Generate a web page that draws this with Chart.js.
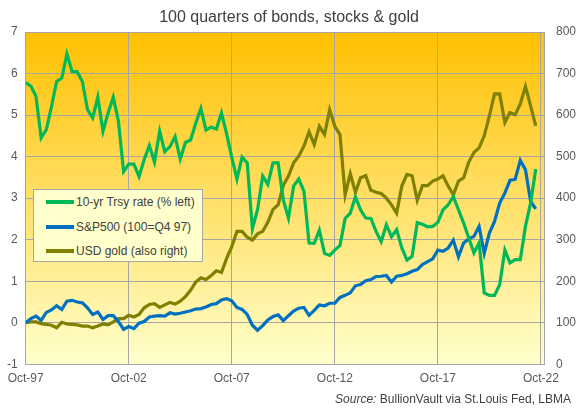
<!DOCTYPE html>
<html>
<head>
<meta charset="utf-8">
<script src="https://cdn.jsdelivr.net/npm/chart.js@4"></script>
<style>
  body { margin: 0; background: #fff; }
  #wrap { position: relative; width: 578px; height: 409px; }
  #legend {
    position: absolute; left: 33px; top: 189px; width: 168px; height: 71px;
    background: #FFFFCC; border: 1px solid #A6A6A6;
    font: 12px 'Liberation Sans', Arial, sans-serif; color: #404040;
  }
  .row { position: absolute; left: 0; height: 16px; line-height: 16px; white-space: nowrap; }
  .swatch { position: absolute; left: 12px; top: 6px; width: 28px; height: 4px; }
  .lbl { position: absolute; left: 42px; top: 0; }
  #source {
    position: absolute; right: 7px; top: 392px;
    font: 12px 'Liberation Sans', Arial, sans-serif; color: #404040;
  }
</style>
</head>
<body>
<div id="wrap">
  <canvas id="chart" width="578" height="409"></canvas>
  <div id="legend"></div>
  <div id="source"><i>Source:</i> BullionVault via St.Louis Fed, LBMA</div>
</div>
<script>
// quarter ends Q4 1997 .. Q3 2022 (100 quarters), x = quarter index
const xTickPos = [0, 20, 40, 60, 80, 100];
const xTickLabels = ["Oct-97", "Oct-02", "Oct-07", "Oct-12", "Oct-17", "Oct-22"];

// 10-yr Treasury yield, % (left axis)
const treasury = [
  5.78, 5.70, 5.45, 4.45, 4.65, 5.20, 5.81, 5.89, 6.47, 6.05,
  6.04, 5.81, 5.13, 4.93, 5.43, 4.61, 5.05, 5.43, 4.85, 3.64,
  3.82, 3.82, 3.52, 3.93, 4.27, 3.87, 4.61, 4.12, 4.24, 4.48,
  3.94, 4.34, 4.40, 4.80, 5.16, 4.64, 4.71, 4.66, 5.05, 4.55,
  3.98, 3.46, 3.99, 3.85, 2.26, 2.72, 3.53, 3.33, 3.85, 3.85,
  2.96, 2.52, 3.29, 3.46, 3.17, 1.92, 1.91, 2.23, 1.67, 1.62,
  1.75, 1.86, 2.51, 2.64, 3.03, 2.72, 2.52, 2.51, 2.20, 1.95,
  2.36, 2.07, 2.24, 1.80, 1.51, 1.60, 2.41, 2.37, 2.31, 2.32,
  2.42, 2.72, 2.84, 3.04, 2.72, 2.40, 2.04, 1.68, 1.92, 0.72,
  0.66, 0.66, 0.92, 1.75, 1.44, 1.52, 1.52, 2.32, 2.88, 3.70
];

// S&P500, 100 = Q4 97 (right axis)
const sp500 = [
  100, 110, 116, 106, 125, 131, 141, 132, 152, 154,
  150, 148, 136, 120, 126, 108, 117, 117, 103, 84,
  91, 86, 99, 103, 114, 116, 117, 116, 124, 121,
  123, 126, 129, 133, 134, 138, 144, 146, 155, 158,
  153, 137, 132, 120, 94, 82, 93, 107, 115, 119,
  105, 117, 128, 135, 137, 118, 130, 143, 141, 147,
  147, 161, 166, 172, 189, 192, 201, 204, 211, 212,
  214, 198, 212, 214, 218, 224, 228, 240, 247, 254,
  275, 272, 280, 299, 259, 292, 302, 308, 332, 267,
  316, 344, 388, 412, 443, 445, 491, 469, 392, 374
];

// USD gold, 100 = Q4 97 (right axis)
const gold = [
  100, 102, 102, 98, 96, 94, 88, 101, 97, 96,
  95, 92, 92, 88, 92, 97, 95, 102, 110, 110,
  118, 114, 120, 136, 144, 146, 137, 143, 149, 145,
  152, 163, 178, 198, 208, 204, 214, 225, 221, 255,
  283, 320, 320, 306, 299, 314, 320, 342, 373, 384,
  431, 453, 485, 501, 525, 560, 529, 573, 553, 613,
  573, 553, 408, 459, 414, 449, 454, 419, 414, 411,
  400, 384, 364, 429, 457, 454, 395, 430, 430, 441,
  446, 454, 429, 408, 441, 449, 487, 510, 521, 550,
  598, 651, 651, 582, 606, 601, 627, 669, 622, 574
];

const seriesNames = ["10-yr Trsy rate (% left)", "S&P500 (100=Q4 97)", "USD gold (also right)"];
const seriesColors = ["#00B857", "#0070C0", "#7F7F00"];

const toXY = arr => arr.map((v, i) => ({ x: i, y: v }));

// HTML legend built from the series names/colours
const legendEl = document.getElementById("legend");
seriesNames.forEach((name, k) => {
  const row = document.createElement("div");
  row.className = "row";
  row.style.top = (4 + k * 24.6) + "px";
  row.innerHTML = '<span class="swatch" style="background:' + seriesColors[k] + '"></span><span class="lbl">' + name.replace("&", "&amp;") + '</span>';
  legendEl.appendChild(row);
});

const plotBackground = {
  id: "plotBackground",
  beforeDraw(chart) {
    const { ctx, chartArea: a } = chart;
    const g = ctx.createLinearGradient(0, a.top, 0, a.bottom);
    g.addColorStop(0, "#FFC000");
    g.addColorStop(1, "#FFFFCC");
    ctx.save();
    ctx.fillStyle = g;
    ctx.fillRect(a.left, a.top, a.right - a.left, a.bottom - a.top);
    ctx.restore();
  }
};

Chart.defaults.font.family = "'Liberation Sans', Arial, sans-serif";
Chart.defaults.font.size = 12;
Chart.defaults.color = "#595959";

const gridColor = "#A6A6A6";

new Chart(document.getElementById("chart").getContext("2d"), {
  type: "line",
  data: {
    datasets: [
      { label: seriesNames[0], data: toXY(treasury), yAxisID: "y", borderColor: seriesColors[0], borderWidth: 3.2 },
      { label: seriesNames[1], data: toXY(sp500), yAxisID: "y2", borderColor: seriesColors[1], borderWidth: 3.2 },
      { label: seriesNames[2], data: toXY(gold), yAxisID: "y2", borderColor: seriesColors[2], borderWidth: 3.2 }
    ]
  },
  options: {
    responsive: false,
    animation: false,
    events: [],
    elements: { point: { radius: 0 }, line: { tension: 0, fill: false } },
    layout: { padding: 0 },
    plugins: {
      legend: { display: false },
      tooltip: { enabled: false },
      title: {
        display: true,
        text: "100 quarters of bonds, stocks & gold",
        color: "#404040",
        font: { size: 16, weight: "normal" },
        padding: { top: 8, bottom: 4.8 }
      }
    },
    scales: {
      x: {
        type: "linear",
        min: 0,
        max: 100.6,
        afterBuildTicks: s => { s.ticks = xTickPos.map(v => ({ value: v })); },
        afterFit: s => { s.height = 44.7; },
        ticks: {
          padding: 7,
          maxRotation: 0,
          callback: (v, i) => xTickLabels[i]
        },
        grid: { color: gridColor, drawTicks: false },
        border: { color: gridColor }
      },
      y: {
        position: "left",
        min: -1,
        max: 7,
        afterFit: s => { s.width = 25.7; },
        ticks: { stepSize: 1, padding: 8 },
        grid: { color: gridColor, drawTicks: false },
        border: { color: gridColor }
      },
      y2: {
        position: "right",
        min: 0,
        max: 800,
        afterFit: s => { s.width = 34; },
        ticks: { stepSize: 100, padding: 12 },
        grid: { display: false, drawTicks: false },
        border: { color: gridColor }
      }
    }
  },
  plugins: [plotBackground]
});
</script>
</body>
</html>
